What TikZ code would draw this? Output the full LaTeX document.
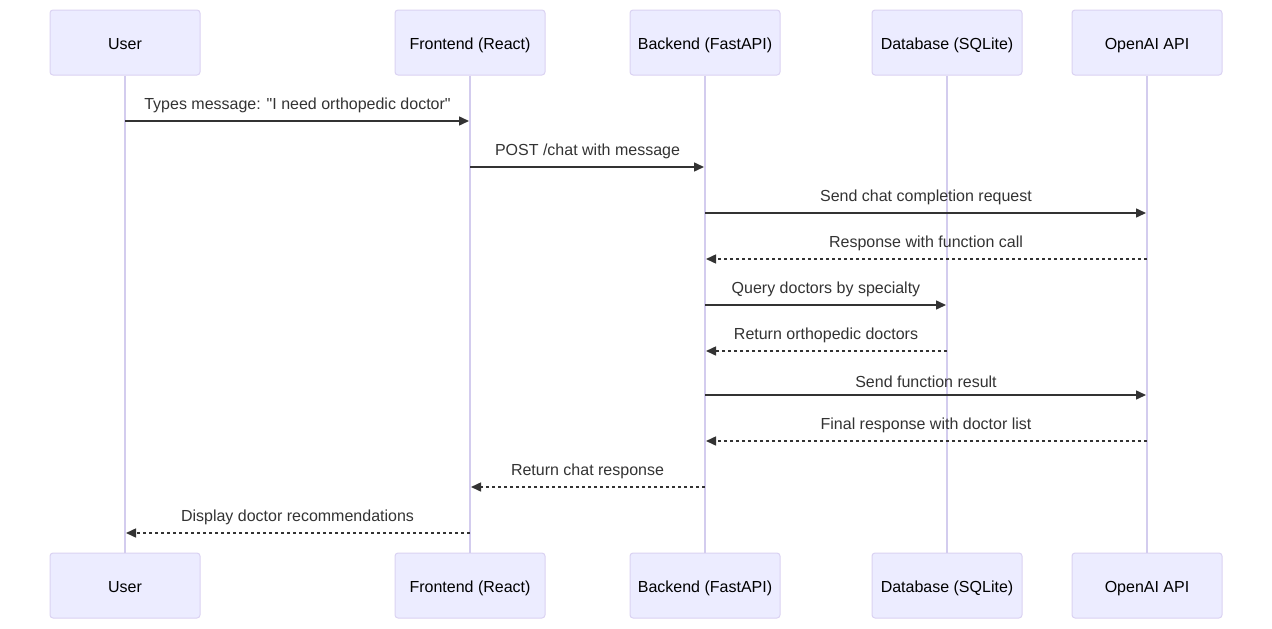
\documentclass[tikz,border=0pt]{standalone}
\usepackage{fontspec}
\setmainfont{Liberation Sans}[Ligatures=TeXOff]
\usetikzlibrary{arrows.meta}
\definecolor{actor fill}{HTML}{ECECFF}
\definecolor{actor border}{HTML}{DAD2F2}
\definecolor{actor line}{HTML}{D3CCEE}
\definecolor{msg gray}{HTML}{333333}
\tikzset{
	actor/.style = {draw = actor border, fill = actor fill, line width = 1pt, rounded corners = 3pt,
		minimum width = 150pt, minimum height = 65pt, inner sep = 0pt,
		text height = 13pt, text depth = 0pt,
		font = \fontsize{16}{19}\selectfont, text = black},
	lifeline/.style = {draw = actor line, line width = 1.5pt},
	msg/.style = {draw = msg gray, line width = 1.5pt, shorten > = 1pt,
		-{Triangle[length = 10pt, width = 9pt]}},
	reply/.style = {msg, dash pattern = on 3pt off 3pt},
	msglabel/.style = {midway, above = 7pt, inner sep = 0pt, text = msg gray,
		font = \fontsize{16}{19}\selectfont}
}

\begin{document}
\begin{tikzpicture}[x = 1pt, y = -1pt]
		\useasboundingbox (0, 0) rectangle (1272, 629);
		% participants, top row
		\node[actor] (topUser) at (125, 42.5) {User};
		\node[actor] (topFront) at (470, 42.5) {Frontend (React)};
		\node[actor] (topBack) at (705, 42.5) {Backend (FastAPI)};
		\node[actor] (topDb) at (947, 42.5) {Database (SQLite)};
		\node[actor] (topAi) at (1147, 42.5) {OpenAI API};
		% participants, bottom row
		\node[actor] (botUser) at (125, 585.5) {User};
		\node[actor] (botFront) at (470, 585.5) {Frontend (React)};
		\node[actor] (botBack) at (705, 585.5) {Backend (FastAPI)};
		\node[actor] (botDb) at (947, 585.5) {Database (SQLite)};
		\node[actor] (botAi) at (1147, 585.5) {OpenAI API};
		% lifelines
		\draw[lifeline] (topUser.south) -- (botUser.north);
		\draw[lifeline] (topFront.south) -- (botFront.north);
		\draw[lifeline] (topBack.south) -- (botBack.north);
		\draw[lifeline] (topDb.south) -- (botDb.north);
		\draw[lifeline] (topAi.south) -- (botAi.north);
		% requests and replies
		\draw[msg] (topUser |- 0, 121) -- (topFront |- 0, 121)
			node[msglabel] {Types message: "I need orthopedic doctor"};
		\draw[msg] (topFront |- 0, 167) -- (topBack |- 0, 167)
			node[msglabel] {POST /chat with message};
		\draw[msg] (topBack |- 0, 213) -- (topAi |- 0, 213)
			node[msglabel] {Send chat completion request};
		\draw[reply] (topAi |- 0, 259) -- (topBack |- 0, 259)
			node[msglabel] {Response with function call};
		\draw[msg] (topBack |- 0, 305) -- (topDb |- 0, 305)
			node[msglabel] {Query doctors by specialty};
		\draw[reply] (topDb |- 0, 351) -- (topBack |- 0, 351)
			node[msglabel] {Return orthopedic doctors};
		\draw[msg] (topBack |- 0, 395) -- (topAi |- 0, 395)
			node[msglabel] {Send function result};
		\draw[reply] (topAi |- 0, 441) -- (topBack |- 0, 441)
			node[msglabel] {Final response with doctor list};
		\draw[reply] (topBack |- 0, 487) -- (topFront |- 0, 487)
			node[msglabel] {Return chat response};
		\draw[reply] (topFront |- 0, 533) -- (topUser |- 0, 533)
			node[msglabel] {Display doctor recommendations};
	\end{tikzpicture}
\end{document}
